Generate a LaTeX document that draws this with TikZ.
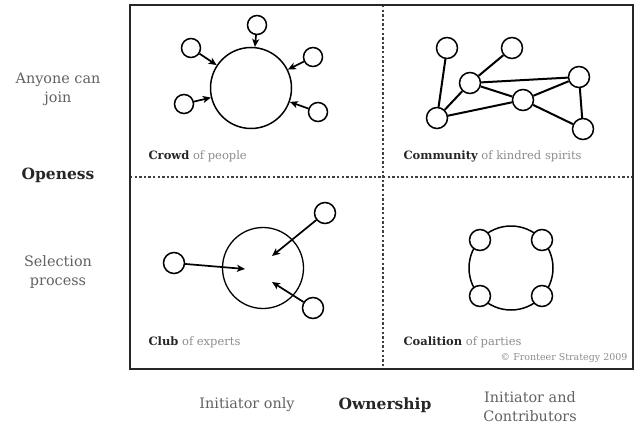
\documentclass[tikz,border=0pt]{standalone}
\usepackage{fontspec}
\setmainfont{DejaVu Serif}
\usetikzlibrary{arrows,arrows.meta,positioning}
\definecolor{inkgray}{gray}{0.38}
\definecolor{lightink}{gray}{0.55}
\tikzset{
	party/.style = {circle, draw=black, fill=white, line width=1.5pt,
		inner sep=0pt, minimum size=19pt},
	group/.style = {circle, draw=black, line width=1.5pt, inner sep=0pt,
		minimum size=81pt},
	axislabel/.style = {align=center, text=inkgray,
		font=\fontsize{14.4}{19}\selectfont},
	axistitle/.style = {text=black!85, font=\fontsize{15.5}{18}\selectfont\bfseries},
	caption/.style = {anchor=west, text=lightink, font=\fontsize{11.5}{13}\selectfont},
	divider/.style = {black!75, line width=1.6pt, dash pattern=on 2.4pt off 2.2pt}
}
\newcommand{\kind}[1]{\textcolor{black!85}{\bfseries #1}}

\begin{document}
\begin{tikzpicture}[x=1pt,y=-1pt,>={Stealth[length=8pt,width=7pt,inset=2pt]}]
\useasboundingbox (0,0) rectangle (636,425);
% frame and quadrants
\coordinate (nw) at (130,5);
\coordinate (se) at (633,369);
\coordinate (topmid) at (383,5);
\coordinate (botmid) at (383,369);
\coordinate (leftmid) at (130,177);
\coordinate (rightmid) at (633,177);
\draw[divider] (topmid) -- (botmid);
\draw[divider] (leftmid) -- (rightmid);
\draw[line width=2pt, black!85] (nw) rectangle (se);

% crowd
\node [group] (crowd) at (251,88) {};
\node [party] (cr1) at (257,25) {};
\node [party] (cr2) at (191,48) {};
\node [party] (cr3) at (313,57) {};
\node [party] (cr4) at (184,104) {};
\node [party] (cr5) at (318,112) {};
\foreach \p in {cr1,cr2,cr3,cr4,cr5}
	\draw[->, line width=1.7pt] (\p) -- (crowd);
\node [caption] (crowdtxt) at (145,156) {\kind{Crowd} of people};

% community
\begin{scope}[every node/.style={party, minimum size=21pt}]
\node (cm1) at (447,48) {};
\node (cm2) at (512,48) {};
\node (cm3) at (470,83) {};
\node (cm4) at (579,77) {};
\node (cm5) at (523,100) {};
\node (cm6) at (437,118) {};
\node (cm7) at (583,129) {};
\end{scope}
\foreach \a/\b in {cm1/cm6,cm6/cm3,cm3/cm2,cm3/cm4,cm3/cm5,cm6/cm5,cm5/cm4,cm5/cm7,cm4/cm7}
	\draw[line width=2pt] (\a) -- (\b);
\node [caption] (communitytxt) at (400,156) {\kind{Community} of kindred spirits};

% club
\node [group, line width=1.3pt] (club) at (263,268) {};
\node [party, minimum size=21pt] (cl1) at (174,263) {};
\node [party, minimum size=21pt] (cl2) at (325,213) {};
\node [party, minimum size=21pt] (cl3) at (313,308) {};
\coordinate (in1) at (245,269);
\coordinate (in2) at (272,256);
\coordinate (in3) at (272,282);
\draw[->, line width=1.7pt] (cl1) -- (in1);
\draw[->, line width=1.7pt] (cl2) -- (in2);
\draw[->, line width=1.7pt] (cl3) -- (in3);
\node [caption] (clubtxt) at (145,342) {\kind{Club} of experts};

% coalition
\node [group, minimum size=84pt] (coalition) at (511,268) {};
\node [party, minimum size=21pt] (co1) at (480,240) {};
\node [party, minimum size=21pt] (co2) at (542,240) {};
\node [party, minimum size=21pt] (co3) at (480,296) {};
\node [party, minimum size=21pt] (co4) at (542,296) {};
\node [caption] (coalitiontxt) at (400,342) {\kind{Coalition} of parties};
\node [anchor=east, text=lightink, font=\fontsize{9.5}{11}\selectfont] (credit) at (631,358) {© Fronteer Strategy 2009};

% axes
\node [axislabel] (open) at (58,89) {Anyone can\\join};
\node [axistitle] (openess) at (58,175) {Openess};
\node [axislabel] (select) at (58,272) {Selection\\process};
\node [axislabel] (initonly) at (247,405) {Initiator only};
\node [axistitle] (ownership) at (385,405) {Ownership};
\node [axislabel] (initcontrib) at (530,407) {Initiator and\\Contributors};
\end{tikzpicture}
\end{document}
